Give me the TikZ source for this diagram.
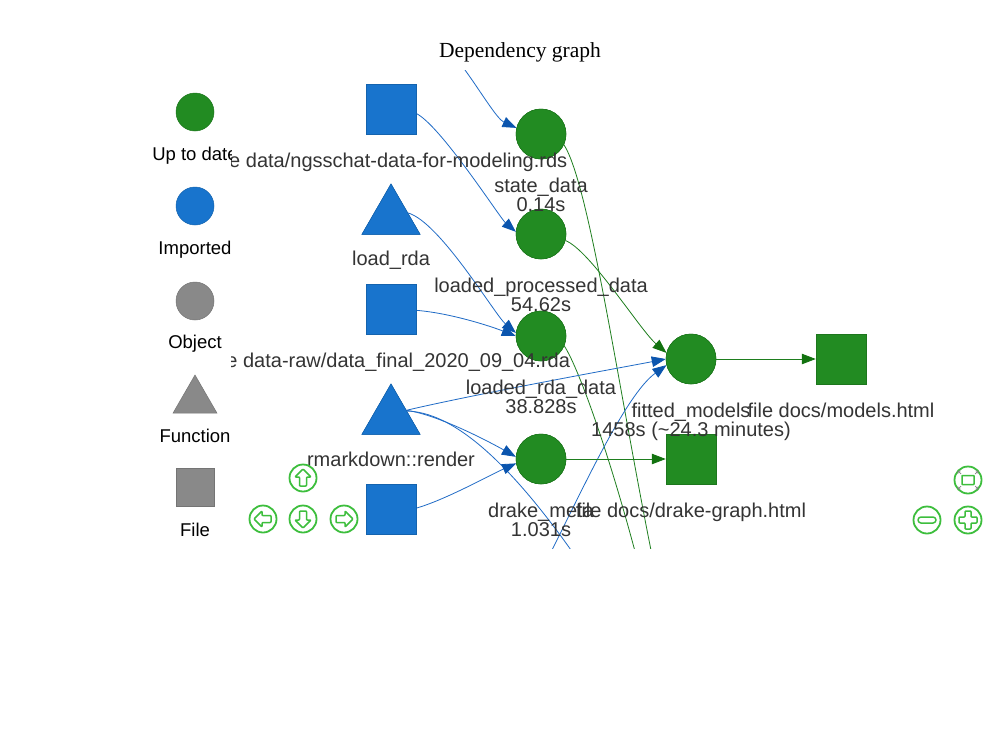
\documentclass[tikz,border=0pt]{standalone}
\usepackage{fontspec}
\setmainfont{Liberation Sans}
\newfontfamily\titlefont{Liberation Serif}
\usetikzlibrary{arrows.meta,shapes.geometric}
\definecolor{ngreen}{HTML}{228B22}
\definecolor{nblue}{HTML}{1874CD}
\definecolor{ngray}{HTML}{898989}
\definecolor{eblue}{HTML}{1F6BC6}
\definecolor{ablue}{HTML}{0B55AE}
\definecolor{egreen}{HTML}{1E7E1E}
\definecolor{agreen}{HTML}{12720F}
\definecolor{navgreen}{HTML}{3DBE3D}
\definecolor{labelgray}{HTML}{343434}
\begin{document}
\begin{tikzpicture}[x=1pt,y=-1pt,
  lbl/.style={font=\fontsize{20}{24}\selectfont, text=labelgray, anchor=base, inner sep=0pt},
  lgdlbl/.style={font=\fontsize{18.5}{22}\selectfont, text=black, anchor=base, inner sep=0pt},
  gcirc/.style={circle, fill=ngreen, draw=ngreen!85!black, line width=0.5pt, minimum size=50pt, inner sep=0pt},
  gsq/.style={rectangle, fill=ngreen, draw=ngreen!85!black, line width=0.5pt, minimum size=50pt, inner sep=0pt},
  bsq/.style={rectangle, fill=nblue, draw=nblue!85!black, line width=0.5pt, minimum size=50pt, inner sep=0pt},
  btri/.style={regular polygon, regular polygon sides=3, fill=nblue, draw=nblue!85!black, line width=0.5pt, minimum size=67pt, inner sep=0pt},
  lgdcirc/.style={circle, minimum size=38pt, inner sep=0pt, line width=0.5pt},
  lgdsq/.style={rectangle, minimum size=38pt, inner sep=0pt, line width=0.5pt},
  lgdtri/.style={regular polygon, regular polygon sides=3, minimum size=50.8pt, inner sep=0pt, line width=0.5pt},
  be/.style={draw=eblue, line width=0.8pt, -{Triangle[length=14pt,width=10.5pt,color=ablue]}},
  bline/.style={draw=eblue, line width=0.8pt},
  ge/.style={draw=egreen, line width=0.8pt, -{Triangle[length=14pt,width=10.5pt,color=agreen]}},
  gline/.style={draw=egreen, line width=0.8pt},
  navbtn/.style={circle, draw=navgreen, line width=1.8pt, fill=white, minimum size=27pt, inner sep=0pt},
  navglyph/.style={draw=navgreen, line width=1.5pt, line join=round, rounded corners=0.8pt}
]
\useasboundingbox (0,0) rectangle (1000,744);
\fill[white] (0,0) rectangle (1000,744);

% title
\node[font=\titlefont\fontsize{21.5}{24}\selectfont, anchor=base, inner sep=0pt] (title) at (520,57) {Dependency graph};

% ---------------- network ----------------
\begin{scope}
\clip (231,70) rectangle (1000,548);

% nodes
\node[bsq] (sq1) at (391,109) {};
\node[gcirc] (sd) at (541,134) {};
\node[btri] (lr) at (391,217.5) {};
\node[gcirc] (lpd) at (541,234) {};
\node[bsq] (sq2) at (391,309) {};
\node[gcirc] (lrd) at (541,336) {};
\node[btri] (rr) at (391,417.5) {};
\node[gcirc] (dm) at (541,459) {};
\node[bsq] (sq3) at (391,509) {};
\node[gcirc] (fm) at (691,359) {};
\node[gsq] (mh) at (841,359) {};
\node[gsq] (dg) at (691,459) {};

% off-view end points
\coordinate (t1) at (465,70);
\coordinate (b1) at (655,570);
\coordinate (b2) at (645,590);
\coordinate (b3) at (546,562);
\coordinate (b4) at (578,560);

% edges
\begin{scope}[on background layer/.try]
\end{scope}
\draw[be] (t1) .. controls (481,92) and (497,119) .. (sd.166);
\draw[be] (sq1.-10) .. controls (441,126) and (500,218) .. (lpd.175);
\draw[be] (lr.15) .. controls (440,222) and (495,315) .. (lrd.173);
\draw[be] (sq2.-3) .. controls (450,313) and (490,326) .. (lrd.180);
\draw[gline] (sd.-25) .. controls (590,185) and (620,400) .. (b1);
\draw[ge] (lpd.-15) .. controls (590,250) and (640,330) .. (fm.166);
\draw[gline] (lrd.-23) .. controls (580,370) and (615,470) .. (b2);
\draw[be] (rr.25) .. controls (480,393) and (630,366) .. (fm.180);
\draw[be] (b3) .. controls (580,495) and (625,395) .. (fm.194);
\draw[be] (rr.25) .. controls (440,415) and (495,445) .. (dm.175);
\draw[bline] (rr.22) .. controls (450,412) and (505,455) .. (b4);
\draw[be] (sq3.2) .. controls (445,500) and (490,475) .. (dm.190);
\draw[ge] (dm) -- (dg);
\draw[ge] (fm) -- (mh);

% redraw nodes on top of edges
\node[bsq] at (sq1) {};
\node[gcirc] at (sd) {};
\node[btri] at (lr) {};
\node[gcirc] at (lpd) {};
\node[bsq] at (sq2) {};
\node[gcirc] at (lrd) {};
\node[btri] at (rr) {};
\node[gcirc] at (dm) {};
\node[bsq] at (sq3) {};
\node[gcirc] at (fm) {};
\node[gsq] at (mh) {};
\node[gsq] at (dg) {};

% labels
\node[lbl] (l_sq1) at (391,167) {file data/ngsschat-data-for-modeling.rds};
\node[lbl] (l_sd1) at (541,192) {state\_data};
\node[lbl] (l_sd2) at (541,211.5) {0.14s};
\node[lbl] (l_lr) at (391,265) {load\_rda};
\node[lbl] (l_lpd1) at (541,292) {loaded\_processed\_data};
\node[lbl] (l_lpd2) at (541,311.5) {54.62s};
\node[lbl] (l_sq2) at (391,367) {file data-raw/data\_final\_2020\_09\_04.rda};
\node[lbl] (l_lrd1) at (541,394) {loaded\_rda\_data};
\node[lbl] (l_lrd2) at (541,413.5) {38.828s};
\node[lbl] (l_rr) at (391,466) {rmarkdown::render};
\node[lbl] (l_dm1) at (541,517) {drake\_meta};
\node[lbl] (l_dm2) at (541,536.5) {1.031s};
\node[lbl] (l_fm1) at (691,417) {fitted\_models};
\node[lbl] (l_fm2) at (691,436.5) {1458s (\textasciitilde 24.3 minutes)};
\node[lbl] (l_mh) at (841,417) {file docs/models.html};
\node[lbl] (l_dg) at (691,517) {file docs/drake-graph.html};
\end{scope}

% ---------------- legend ----------------
\begin{scope}
\clip (0,70) rectangle (231,744);
\node[lgdcirc, fill=ngreen, draw=ngreen!85!black] (lg1) at (195,112) {};
\node[lgdlbl] (lg1t) at (195,160) {Up to date};
\node[lgdcirc, fill=nblue, draw=nblue!85!black] (lg2) at (195,206) {};
\node[lgdlbl] (lg2t) at (195,254) {Imported};
\node[lgdcirc, fill=ngray, draw=ngray!85!black] (lg3) at (195,301) {};
\node[lgdlbl] (lg3t) at (195,348) {Object};
\node[lgdtri, fill=ngray, draw=ngray!85!black] (lg4) at (195,400.4) {};
\node[lgdlbl] (lg4t) at (195,442) {Function};
\node[lgdsq, fill=ngray, draw=ngray!85!black] (lg5) at (195,487.5) {};
\node[lgdlbl] (lg5t) at (195,536) {File};
\end{scope}

% ---------------- navigation buttons ----------------
\node[navbtn] (nup) at (303,478) {};
\node[navbtn] (nleft) at (263,519) {};
\node[navbtn] (ndown) at (303,519) {};
\node[navbtn] (nright) at (344,519) {};
\node[navbtn] (nfit) at (968,480) {};
\node[navbtn] (nminus) at (927,520) {};
\node[navbtn] (nplus) at (968,520) {};

\begin{scope}[shift={(nup)}]
\draw[navglyph] (0,-9) -- (8,-1) -- (3.5,-1) -- (3.5,8) -- (-3.5,8) -- (-3.5,-1) -- (-8,-1) -- cycle;
\end{scope}
\begin{scope}[shift={(ndown)}]
\draw[navglyph] (0,9) -- (8,1) -- (3.5,1) -- (3.5,-8) -- (-3.5,-8) -- (-3.5,1) -- (-8,1) -- cycle;
\end{scope}
\begin{scope}[shift={(nleft)}]
\draw[navglyph] (-9,0) -- (-1,8) -- (-1,3.5) -- (8,3.5) -- (8,-3.5) -- (-1,-3.5) -- (-1,-8) -- cycle;
\end{scope}
\begin{scope}[shift={(nright)}]
\draw[navglyph] (9,0) -- (1,8) -- (1,3.5) -- (-8,3.5) -- (-8,-3.5) -- (1,-3.5) -- (1,-8) -- cycle;
\end{scope}
\begin{scope}[shift={(nminus)}]
\draw[navglyph, rounded corners=3pt] (-9,-3) rectangle (9,3);
\end{scope}
\begin{scope}[shift={(nplus)}]
\draw[navglyph] (-3,-9) -- (3,-9) -- (3,-3) -- (9,-3) -- (9,3) -- (3,3) -- (3,9) -- (-3,9) -- (-3,3) -- (-9,3) -- (-9,-3) -- (-3,-3) -- cycle;
\end{scope}
\begin{scope}[shift={(nfit)}]
\draw[navglyph, rounded corners=0.5pt] (-6,-4.5) rectangle (6,4.5);
\draw[gray, line width=0.7pt] (-10,-9) -- (-7,-6) (-10,-9) -- (-10,-6.5) (-10,-9) -- (-7.5,-9);
\draw[gray, line width=0.7pt] (10,-9) -- (7,-6) (10,-9) -- (10,-6.5) (10,-9) -- (7.5,-9);
\draw[gray, line width=0.7pt] (-10,9) -- (-7,6) (-10,9) -- (-10,6.5) (-10,9) -- (-7.5,9);
\draw[gray, line width=0.7pt] (10,9) -- (7,6) (10,9) -- (10,6.5) (10,9) -- (7.5,9);
\end{scope}
\end{tikzpicture}
\end{document}
